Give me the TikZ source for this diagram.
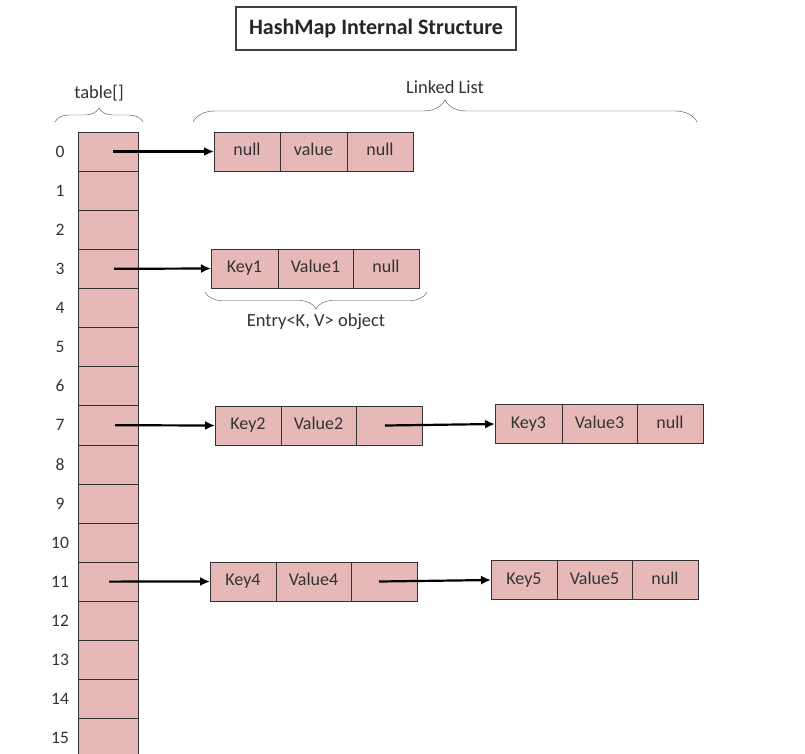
\documentclass[tikz,border=0pt]{standalone}
\usepackage{fontspec}
\setmainfont{Carlito}
\usetikzlibrary{arrows.meta, positioning, decorations.pathreplacing}
\definecolor{cellpink}{RGB}{230,185,184}
\definecolor{inkgray}{RGB}{51,51,51}

\begin{document}
\begin{tikzpicture}[
        x=1pt, y=-1pt,
        cell/.style={rectangle, draw=black!80, fill=cellpink, minimum height=39pt, inner sep=0pt, outer sep=0pt, text=inkgray, text height=12pt, text depth=3.5pt, font=\fontsize{18}{21}\selectfont},
        slot/.style={cell, minimum width=60pt, minimum height=39.1pt},
        keycell/.style={cell, minimum width=66pt},
        valcell/.style={cell, minimum width=75pt},
        index/.style={text=inkgray, font=\fontsize{17.5}{20}\selectfont},
        note/.style={text=inkgray, font=\fontsize{18.5}{21}\selectfont},
        arrow/.style={-{Latex[length=10pt,width=9pt]}, line width=2.2pt},
        curly/.style={decorate, decoration={brace, amplitude=#1}, draw=black!70, thin}
    ]
        \path[use as bounding box, fill=white] (0,0) rectangle (805,753);

        \node[draw=black!75, line width=1.2pt, minimum width=280pt, minimum height=43pt, font=\fontsize{22}{26}\selectfont\bfseries, text=black!85] (title) at (376,28.5) {HashMap Internal Structure};

        \foreach \i in {0,...,15} {
            \node[slot] (t\i) at (108,151.5+39.1*\i) {};
            \node[index] (n\i) at (60,151.5+39.1*\i) {\i};
        }

        \node[keycell] (e0key) at (247,151.5) {null};
        \node[valcell, minimum width=67pt, right=0pt of e0key] (e0val) {value};
        \node[keycell, right=0pt of e0val] (e0next) {null};

        \node[keycell, minimum width=67pt] (e3key) at (244.5,268.5) {Key1};
        \node[valcell, right=0pt of e3key] (e3val) {Value1};
        \node[keycell, right=0pt of e3val] (e3next) {null};

        \node[keycell] (e7key) at (248,425.5) {Key2};
        \node[valcell, right=0pt of e7key] (e7val) {Value2};
        \node[keycell, right=0pt of e7val] (e7next) {};

        \node[keycell, minimum width=67pt] (k3key) at (528.5,424) {Key3};
        \node[valcell, right=0pt of k3key] (k3val) {Value3};
        \node[keycell, right=0pt of k3val] (k3next) {null};

        \node[keycell] (e11key) at (243,581.5) {Key4};
        \node[valcell, right=0pt of e11key] (e11val) {Value4};
        \node[keycell, right=0pt of e11val] (e11next) {};

        \node[keycell] (k5key) at (524,580) {Key5};
        \node[valcell, right=0pt of k5key] (k5val) {Value5};
        \node[keycell, right=0pt of k5val] (k5next) {null};

        \draw[arrow] ([xshift=5pt]t0.center) -- (e0key.west);
        \draw[arrow] ([xshift=6pt]t3.center) -- (e3key.west);
        \draw[arrow] ([xshift=7pt]t7.center) -- (e7key.west);
        \draw[arrow] ([xshift=1pt]t11.center) -- (e11key.west);
        \draw[arrow] ([xshift=-4pt]e7next.center) -- (k3key.west);
        \draw[arrow] ([xshift=-5pt]e11next.center) -- (k5key.west);

        \coordinate (tblleft) at (55,122);
        \coordinate (tblright) at (143,122);
        \coordinate (listleft) at (193,122);
        \coordinate (listright) at (697,122);
        \coordinate (entryleft) at (205,292);
        \coordinate (entryright) at (427,292);

        \draw[curly=14pt] (tblleft) -- node[note, midway, above=17pt] (tbltext) {table[]} (tblright);
        \draw[curly=22pt] (listleft) -- node[note, midway, above=25pt] (listtext) {Linked List} (listright);
        \draw[curly=17pt] (entryright) -- node[note, midway, below=18pt] (entrytext) {Entry<K, V> object} (entryleft);
    \end{tikzpicture}
\end{document}
